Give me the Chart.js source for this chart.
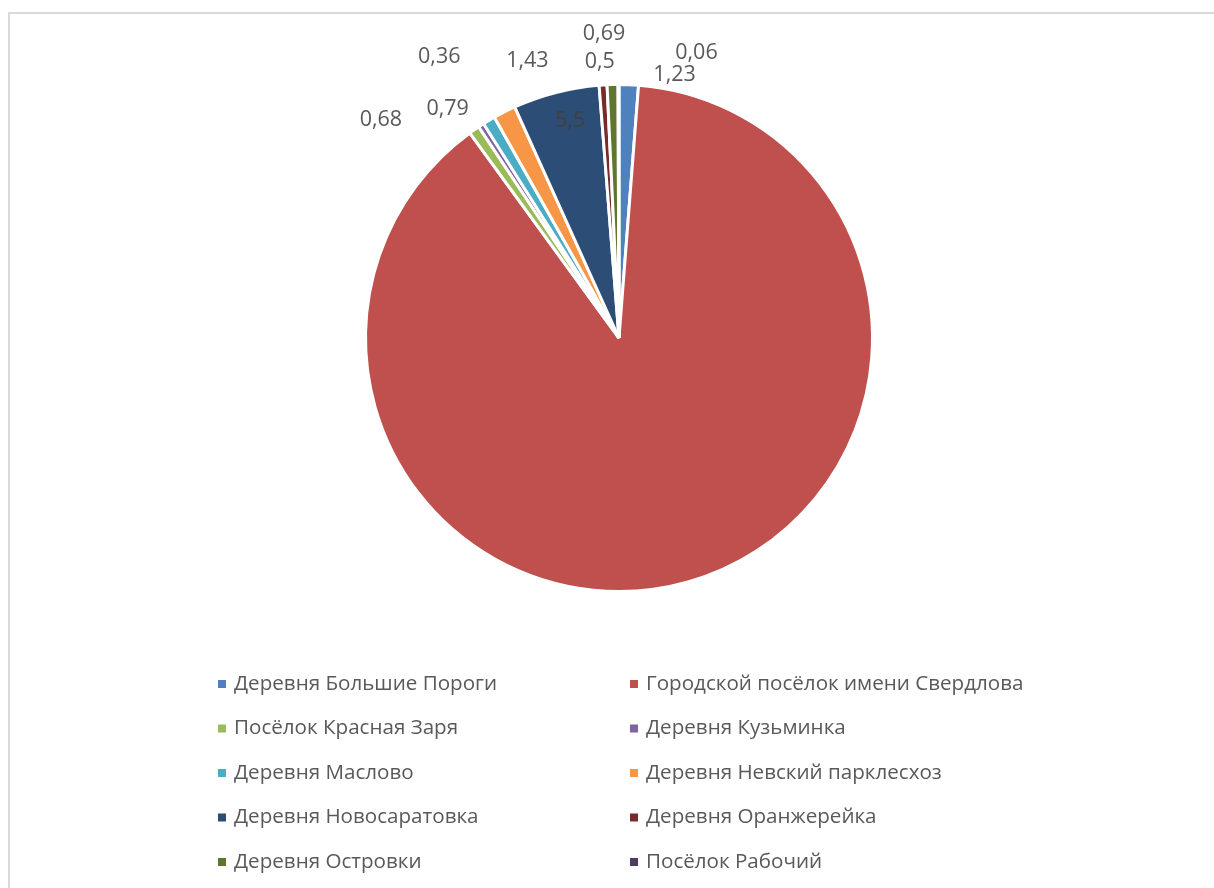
<!DOCTYPE html>
<html>
<head>
<meta charset="utf-8">
<title>Распределение населения</title>
<script src="https://cdn.jsdelivr.net/npm/chart.js@4/dist/chart.umd.min.js"></script>
<style>
  html, body { margin: 0; padding: 0; background: #ffffff; }
  #wrap { width: 1214px; height: 888px; position: relative; }
</style>
</head>
<body>
<div id="wrap"><canvas id="c" width="1214" height="888"></canvas></div>
<script>
// Settlements and their shares, %
const categories = [
  'Деревня Большие Пороги',
  'Городской посёлок имени Свердлова',
  'Посёлок Красная Заря',
  'Деревня Кузьминка',
  'Деревня Маслово',
  'Деревня Невский парклесхоз',
  'Деревня Новосаратовка',
  'Деревня Оранжерейка',
  'Деревня Островки',
  'Посёлок Рабочий'
];
const shares = [1.23, 88.76, 0.68, 0.36, 0.79, 1.43, 5.5, 0.5, 0.69, 0.06];
const showValue = [true, false, true, true, true, true, true, true, true, true];

const sliceColors = ['#4F81BD', '#C0504D', '#9BBB59', '#8064A2', '#4BACC6',
                     '#F79646', '#2C4D75', '#772C2A', '#5F7530', '#4D3B62'];
const valueColors = ['#595959', '#595959', '#595959', '#595959', '#595959',
                     '#595959', '#404040', '#595959', '#595959', '#595959'];
// nudges of the value labels away from their default spot outside each slice
const labelNudge = [[45, 10], [0, 0], [-82, 6], [-31, -52], [-31, 6],
                    [32, -33], [19, 48], [-2, -3], [-8, -31], [78, -12]];

const FONT = '"Open Sans", "Noto Sans", "DejaVu Sans", sans-serif';

const fmt = v => String(v).replace('.', ',');

const decorations = {
  id: 'decorations',
  beforeDraw(chart) {
    const ctx = chart.ctx;
    ctx.save();
    ctx.strokeStyle = '#d9d9d9';
    ctx.lineWidth = 2;
    ctx.beginPath();
    ctx.moveTo(9, 900);
    ctx.lineTo(9, 13);
    ctx.lineTo(1220, 13);
    ctx.stroke();
    ctx.restore();
  },
  afterDraw(chart) {
    const ctx = chart.ctx;
    const meta = chart.getDatasetMeta(0);
    ctx.save();
    // value labels
    ctx.font = '21.5px ' + FONT;
    ctx.textAlign = 'center';
    ctx.textBaseline = 'middle';
    meta.data.forEach((arc, i) => {
      if (!showValue[i]) return;
      const p = arc.getProps(['x', 'y', 'startAngle', 'endAngle', 'outerRadius'], true);
      const mid = (p.startAngle + p.endAngle) / 2;
      const r = p.outerRadius + 20;
      const lx = p.x + Math.cos(mid) * r + labelNudge[i][0];
      const ly = p.y + Math.sin(mid) * r + labelNudge[i][1];
      ctx.fillStyle = valueColors[i];
      ctx.fillText(fmt(chart.data.datasets[0].data[i]), lx, ly);
    });
    // legend in two columns
    ctx.font = '20.6px ' + FONT;
    ctx.textAlign = 'left';
    const colX = [218, 630];
    const rowY0 = 684, rowStep = 44.5;
    chart.data.labels.forEach((name, i) => {
      const col = i % 2, row = Math.floor(i / 2);
      const y = rowY0 + row * rowStep;
      ctx.fillStyle = sliceColors[i];
      ctx.fillRect(colX[col], y - 4, 8, 8);
      ctx.fillStyle = '#595959';
      ctx.fillText(name, colX[col] + 16, y);
    });
    ctx.restore();
  }
};

new Chart(document.getElementById('c'), {
  type: 'pie',
  data: {
    labels: categories,
    datasets: [{
      data: shares,
      backgroundColor: sliceColors,
      borderColor: '#ffffff',
      borderWidth: 3
    }]
  },
  options: {
    responsive: false,
    animation: false,
    radius: 253.5,
    layout: { padding: { left: 366, right: 342, top: 85, bottom: 297 } },
    plugins: {
      legend: { display: false },
      tooltip: { enabled: false }
    }
  },
  plugins: [decorations]
});
</script>
</body>
</html>
